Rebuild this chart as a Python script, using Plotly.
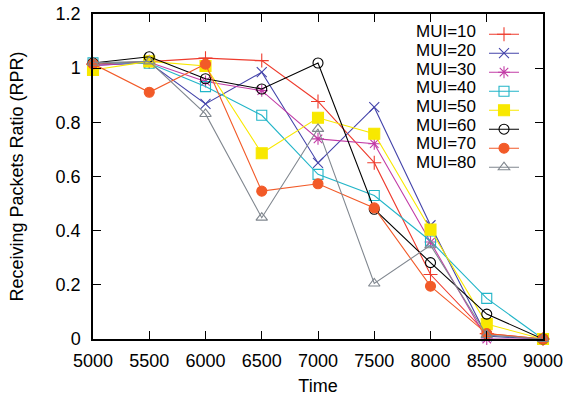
import plotly.graph_objects as go

time = [5000, 5500, 6000, 6500, 7000, 7500, 8000, 8500, 9000]
mui10 = [1.015, 1.024, 1.037, 1.028, 0.877, 0.651, 0.238, 0.02, 0.0]
mui20 = [1.010, 1.020, 0.868, 0.985, 0.650, 0.856, 0.420, 0.01, 0.0]
mui30 = [1.010, 1.022, 0.951, 0.917, 0.739, 0.721, 0.358, 0.0, 0.0]
mui40 = [1.020, 1.018, 0.932, 0.826, 0.608, 0.530, 0.362, 0.150, 0.0]
mui50 = [0.993, 1.025, 1.008, 0.686, 0.817, 0.758, 0.404, 0.055, 0.0]
mui60 = [1.019, 1.042, 0.961, 0.923, 1.019, 0.479, 0.282, 0.092, 0.0]
mui70 = [1.016, 0.911, 1.015, 0.546, 0.573, 0.484, 0.195, 0.020, 0.0]
mui80 = [1.020, 1.025, 0.831, 0.448, 0.776, 0.205, 0.346, 0.015, 0.0]

names = ["MUI=10", "MUI=20", "MUI=30", "MUI=40", "MUI=50", "MUI=60", "MUI=70", "MUI=80"]
series = [mui10, mui20, mui30, mui40, mui50, mui60, mui70, mui80]
colors = ["#ee3b2d", "#4444aa", "#c23ca6", "#22b5c8", "#f8e800", "#000000", "#f25a28", "#80878f"]
symbols = ["cross-thin-open", "x-thin-open", "asterisk-open", "square-open",
           "square", "circle-open", "circle", "triangle-up-open"]
sizes = [10, 10, 10, 10, 11, 10, 10, 10]

FONT = "Liberation Sans, Arial, sans-serif"

W, H = 566, 397
ML, MR, MT, MB = 93, 23, 14, 58
PW = W - ML - MR
PH = H - MT - MB

fig = go.Figure()
for name, ys, c, s, sz in zip(names, series, colors, symbols, sizes):
    fig.add_trace(go.Scatter(
        x=time, y=ys, mode="lines+markers", name=" ",
        line=dict(color=c, width=1.1),
        marker=dict(symbol=s, size=sz, color=c, line=dict(color=c, width=1.1)),
        cliponaxis=False, hoverinfo="skip",
    ))

# legend labels (text left of the key, as in the reference)
L_TOP = 1 - (31.7 - MT) / PH
STEP = 18.7 / PH
for i, name in enumerate(names):
    fig.add_annotation(
        xref="paper", yref="paper", x=(477 - ML) / PW, y=L_TOP - i * STEP,
        text=name, showarrow=False, xanchor="right", yanchor="middle",
        borderpad=0, height=17,
        font=dict(family=FONT, size=17, color="black"),
    )

fig.update_layout(
    template="none",
    width=W, height=H,
    margin=dict(l=ML, r=MR, t=MT, b=MB),
    paper_bgcolor="white", plot_bgcolor="white",
    font=dict(family=FONT, size=18, color="black"),
    showlegend=True,
    legend=dict(
        x=(484 - ML) / PW, y=1 - (19.7 - MT) / PH, xanchor="left", yanchor="top",
        bgcolor="rgba(0,0,0,0)", font=dict(size=10, family=FONT), itemwidth=30,
        tracegroupgap=0, borderwidth=0,
    ),
    xaxis=dict(
        range=[5000, 9000], tickvals=time, ticks="inside", ticklen=8, automargin=False,
        tickcolor="black", tickwidth=1.2, showline=True, linecolor="black", linewidth=1.5,
        mirror="allticks", showgrid=False, zeroline=False,
        title=dict(text="Time", standoff=9, font=dict(size=18)),
        tickfont=dict(size=18), ticklabelstandoff=5,
    ),
    yaxis=dict(
        range=[0, 1.2], tickvals=[0, 0.2, 0.4, 0.6, 0.8, 1.0, 1.2],
        ticktext=["0", "0.2", "0.4", "0.6", "0.8", "1", "1.2"], automargin=False,
        ticks="inside", ticklen=8,
        tickcolor="black", tickwidth=1.2, showline=True, linecolor="black", linewidth=1.5,
        mirror="allticks", showgrid=False, zeroline=False,
        title=dict(text="Receiving Packets Ratio (RPR)", standoff=27, font=dict(size=18)),
        tickfont=dict(size=18), ticklabelstandoff=7,
    ),
)

fig.write_html("out.html", config={"displayModeBar": False},
               post_script="document.body.style.margin='0';")
